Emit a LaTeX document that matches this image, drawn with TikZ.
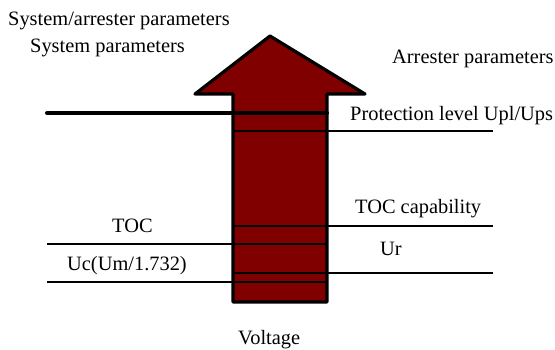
\documentclass[tikz,border=0pt]{standalone}
\usepackage{fontspec}
\setmainfont{Liberation Serif}
\definecolor{arrowred}{HTML}{800000}

\begin{document}
\begin{tikzpicture}[
    x=1pt, y=-1pt,
    every node/.style={font=\fontsize{20.4}{24}\selectfont},
    label/.style={anchor=base west, inner sep=0pt},
    level/.style={line width=2pt},
    thickline/.style={line width=4pt, line cap=round},
    bigarrow/.style={fill=arrowred, draw=black, line width=3.2pt, line join=round}
]
    \useasboundingbox (0,0) rectangle (555,349);

    % voltage arrow
    \draw[bigarrow] (233,302) -- (233,94) -- (195,94) -- (270,36)
        -- (365,94) -- (327,94) -- (327,302) -- cycle;

    % level lines
    \coordinate (sys-a) at (47,113);  \coordinate (sys-b) at (327,113);
    \coordinate (upl-a) at (233,131); \coordinate (upl-b) at (493,131);
    \coordinate (cap-a) at (233,226); \coordinate (cap-b) at (493,226);
    \coordinate (toc-a) at (47,244);  \coordinate (toc-b) at (327,244);
    \coordinate (ur-a) at (233,273);  \coordinate (ur-b) at (493,273);
    \coordinate (uc-a) at (47,282);   \coordinate (uc-b) at (327,282);

    \draw[thickline] (sys-a) -- (sys-b);
    \draw[level] (upl-a) -- (upl-b);
    \draw[level] (cap-a) -- (cap-b);
    \draw[level] (toc-a) -- (toc-b);
    \draw[level] (ur-a) -- (ur-b);
    \draw[level] (uc-a) -- (uc-b);

    % labels
    \node[label] (sysarr) at (8,25) {System/arrester parameters};
    \node[label] (syspar) at (30,52) {System parameters};
    \node[label] (arrpar) at (392,63) {Arrester parameters};
    \node[label] (upl) at (350,120) {Protection level Upl/Ups};
    \node[label] (toccap) at (355,213) {TOC capability};
    \node[label] (ur) at (380,255) {Ur};
    \node[label] (toc) at (112,232) {TOC};
    \node[label] (uc) at (67,270) {Uc(Um/1.732)};
    \node[label] (volt) at (238,344) {Voltage};
\end{tikzpicture}
\end{document}
